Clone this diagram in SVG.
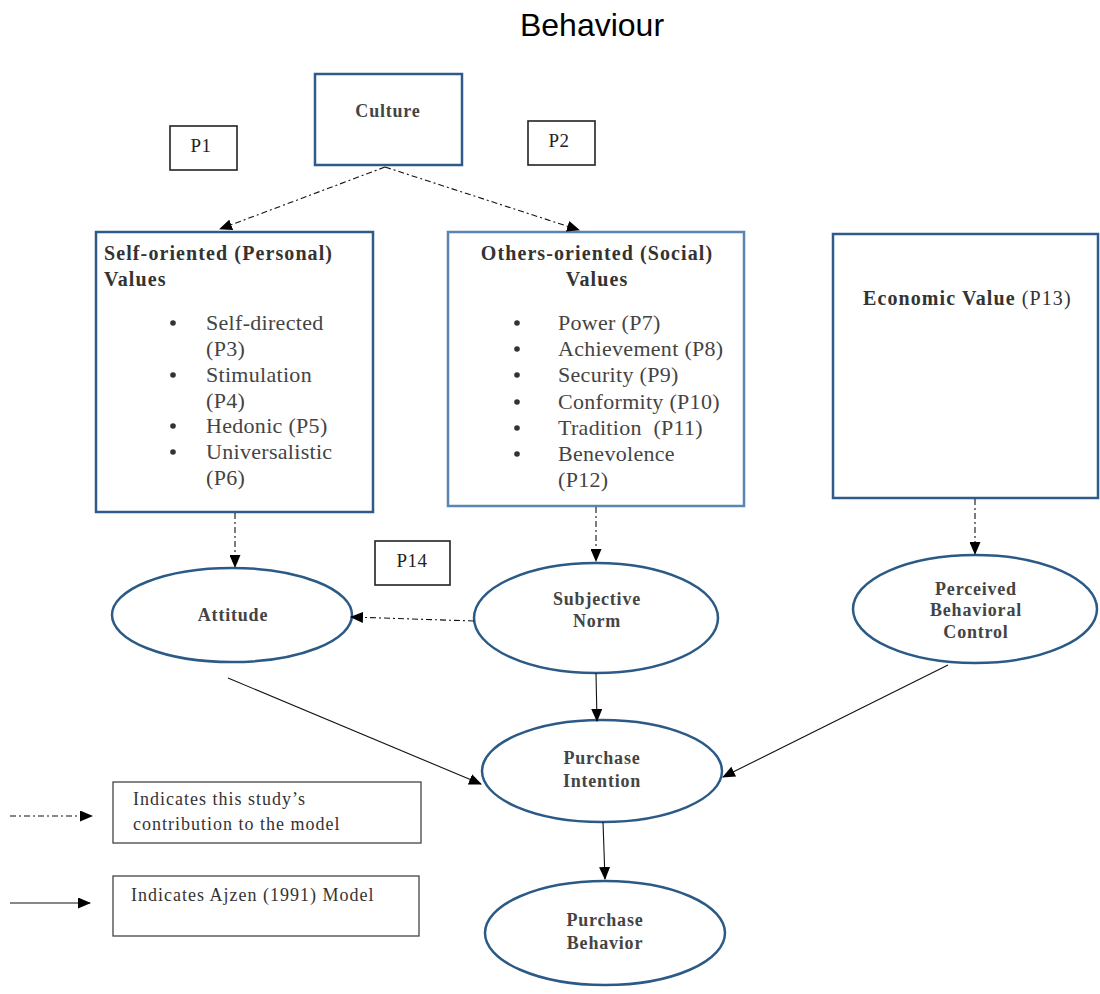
<svg xmlns="http://www.w3.org/2000/svg" width="1100" height="994" viewBox="0 0 1100 994">
  <defs>
    <marker id="arrow" viewBox="0 0 13 11" refX="12" refY="5.5" markerWidth="13" markerHeight="11" markerUnits="userSpaceOnUse" orient="auto">
      <path d="M0,0 L13,5.5 L0,11 Z" fill="#000"/>
    </marker>
    <style>
      .title { font-family: "Liberation Sans", Arial, sans-serif; font-size: 32px; fill: #000; }
      .box-blue { fill: #fff; stroke: #2e5b87; stroke-width: 2.5; }
      .box-light { fill: #fff; stroke: #5a85b3; stroke-width: 2.5; }
      .box-p { fill: #fff; stroke: #222; stroke-width: 1.6; }
      .box-legend { fill: #fff; stroke: #444; stroke-width: 1.3; }
      .ell { fill: #fff; stroke: #2b5a86; stroke-width: 2.5; }
      .hd { font-family: "Liberation Serif", "Times New Roman", serif; font-weight: bold; font-size: 20px; letter-spacing: 1.1px; fill: #333; }
      .lbl { font-family: "Liberation Serif", "Times New Roman", serif; font-weight: bold; font-size: 18px; letter-spacing: 0.8px; fill: #444; text-anchor: middle; }
      .item { font-family: "Liberation Serif", "Times New Roman", serif; font-size: 22px; letter-spacing: 0.3px; fill: #444; }
      .ptxt { font-family: "Liberation Serif", "Times New Roman", serif; font-size: 19px; letter-spacing: 0.5px; fill: #222; text-anchor: middle; }
      .leg { font-family: "Liberation Serif", "Times New Roman", serif; font-size: 18px; letter-spacing: 1px; fill: #333; }
      .dash { fill: none; stroke: #111; stroke-width: 1.1; stroke-dasharray: 6 3 2 3; marker-end: url(#arrow); }
      .solid { fill: none; stroke: #111; stroke-width: 1.1; marker-end: url(#arrow); }
      .dot { fill: #333; }
    </style>
  </defs>

  <text class="title" x="592" y="36" text-anchor="middle">Behaviour</text>

  <g id="culture">
    <rect class="box-blue" x="315" y="74" width="147" height="91"/>
    <text class="lbl" x="388" y="117">Culture</text>
  </g>

  <g id="p1">
    <rect class="box-p" x="170" y="126" width="67" height="44"/>
    <text class="ptxt" x="201" y="152">P1</text>
  </g>

  <g id="p2">
    <rect class="box-p" x="528" y="121" width="67" height="44"/>
    <text class="ptxt" x="559" y="147">P2</text>
  </g>

  <g id="self-oriented">
    <rect class="box-blue" x="96" y="232" width="277" height="280"/>
    <text class="hd" x="104" y="260">Self-oriented (Personal)</text>
    <text class="hd" x="104" y="286">Values</text>
    <circle class="dot" cx="173" cy="323" r="2.8"/>
    <circle class="dot" cx="173" cy="375" r="2.8"/>
    <circle class="dot" cx="173" cy="426" r="2.8"/>
    <circle class="dot" cx="173" cy="452" r="2.8"/>
    <text class="item" x="206" y="330">Self-directed</text>
    <text class="item" x="206" y="356">(P3)</text>
    <text class="item" x="206" y="382">Stimulation</text>
    <text class="item" x="206" y="408">(P4)</text>
    <text class="item" x="206" y="433">Hedonic (P5)</text>
    <text class="item" x="206" y="459">Universalistic</text>
    <text class="item" x="206" y="485">(P6)</text>
  </g>

  <g id="others-oriented">
    <rect class="box-light" x="448" y="232" width="296" height="274"/>
    <text class="hd" x="597" y="260" text-anchor="middle">Others-oriented (Social)</text>
    <text class="hd" x="597" y="286" text-anchor="middle">Values</text>
    <circle class="dot" cx="517" cy="323" r="2.8"/>
    <circle class="dot" cx="517" cy="349" r="2.8"/>
    <circle class="dot" cx="517" cy="375" r="2.8"/>
    <circle class="dot" cx="517" cy="402" r="2.8"/>
    <circle class="dot" cx="517" cy="428" r="2.8"/>
    <circle class="dot" cx="517" cy="454" r="2.8"/>
    <text class="item" x="558" y="330">Power (P7)</text>
    <text class="item" x="558" y="356">Achievement (P8)</text>
    <text class="item" x="558" y="382">Security (P9)</text>
    <text class="item" x="558" y="409">Conformity (P10)</text>
    <text class="item" x="558" y="435">Tradition&#160; (P11)</text>
    <text class="item" x="558" y="461">Benevolence</text>
    <text class="item" x="558" y="487">(P12)</text>
  </g>

  <g id="economic">
    <rect class="box-blue" x="833" y="234" width="265" height="264"/>
    <text class="hd" x="863" y="305">Economic Value <tspan font-weight="normal">(P13)</tspan></text>
  </g>

  <g id="p14">
    <rect class="box-p" x="375" y="541" width="75" height="44"/>
    <text class="ptxt" x="412" y="567">P14</text>
  </g>

  <g id="attitude">
    <ellipse class="ell" cx="232" cy="615" rx="120" ry="47"/>
    <text class="lbl" x="233" y="621">Attitude</text>
  </g>

  <g id="subjective-norm">
    <ellipse class="ell" cx="596" cy="618" rx="122" ry="55"/>
    <text class="lbl" x="597" y="605">Subjective</text>
    <text class="lbl" x="597" y="627">Norm</text>
  </g>

  <g id="perceived-behavioral-control">
    <ellipse class="ell" cx="975" cy="609" rx="122" ry="54"/>
    <text class="lbl" x="976" y="595">Perceived</text>
    <text class="lbl" x="976" y="616">Behavioral</text>
    <text class="lbl" x="976" y="638">Control</text>
  </g>

  <g id="purchase-intention">
    <ellipse class="ell" cx="602" cy="771" rx="120" ry="51"/>
    <text class="lbl" x="602" y="764">Purchase</text>
    <text class="lbl" x="602" y="787">Intention</text>
  </g>

  <g id="purchase-behavior">
    <ellipse class="ell" cx="605" cy="933" rx="120" ry="52"/>
    <text class="lbl" x="605" y="926">Purchase</text>
    <text class="lbl" x="605" y="949">Behavior</text>
  </g>

  <g id="legend">
    <rect class="box-legend" x="113" y="782" width="308" height="61"/>
    <text class="leg" x="133" y="805">Indicates this study’s</text>
    <text class="leg" x="133" y="830">contribution to the model</text>
    <rect class="box-legend" x="113" y="876" width="306" height="60"/>
    <text class="leg" x="131" y="901">Indicates Ajzen (1991) Model</text>
  </g>

  <g id="connectors">
    <!-- proposed paths -->
    <line class="dash" x1="385" y1="167" x2="220" y2="229"/>
    <line class="dash" x1="385" y1="167" x2="579" y2="230"/>
    <line class="dash" x1="235" y1="513" x2="235" y2="567"/>
    <line class="dash" x1="596" y1="507" x2="596" y2="561"/>
    <line class="dash" x1="975" y1="499" x2="975" y2="554"/>
    <line class="dash" x1="474" y1="621" x2="351" y2="617"/>
    <!-- theory of planned behaviour paths -->
    <line class="solid" x1="596" y1="673" x2="597" y2="721"/>
    <line class="solid" x1="228" y1="678" x2="481" y2="784"/>
    <line class="solid" x1="948" y1="665" x2="723" y2="777"/>
    <line class="solid" x1="603" y1="822" x2="605" y2="879"/>
    <!-- legend samples -->
    <line class="dash" x1="10" y1="816" x2="92" y2="816"/>
    <line class="solid" x1="10" y1="903" x2="90" y2="903"/>
  </g>
</svg>
